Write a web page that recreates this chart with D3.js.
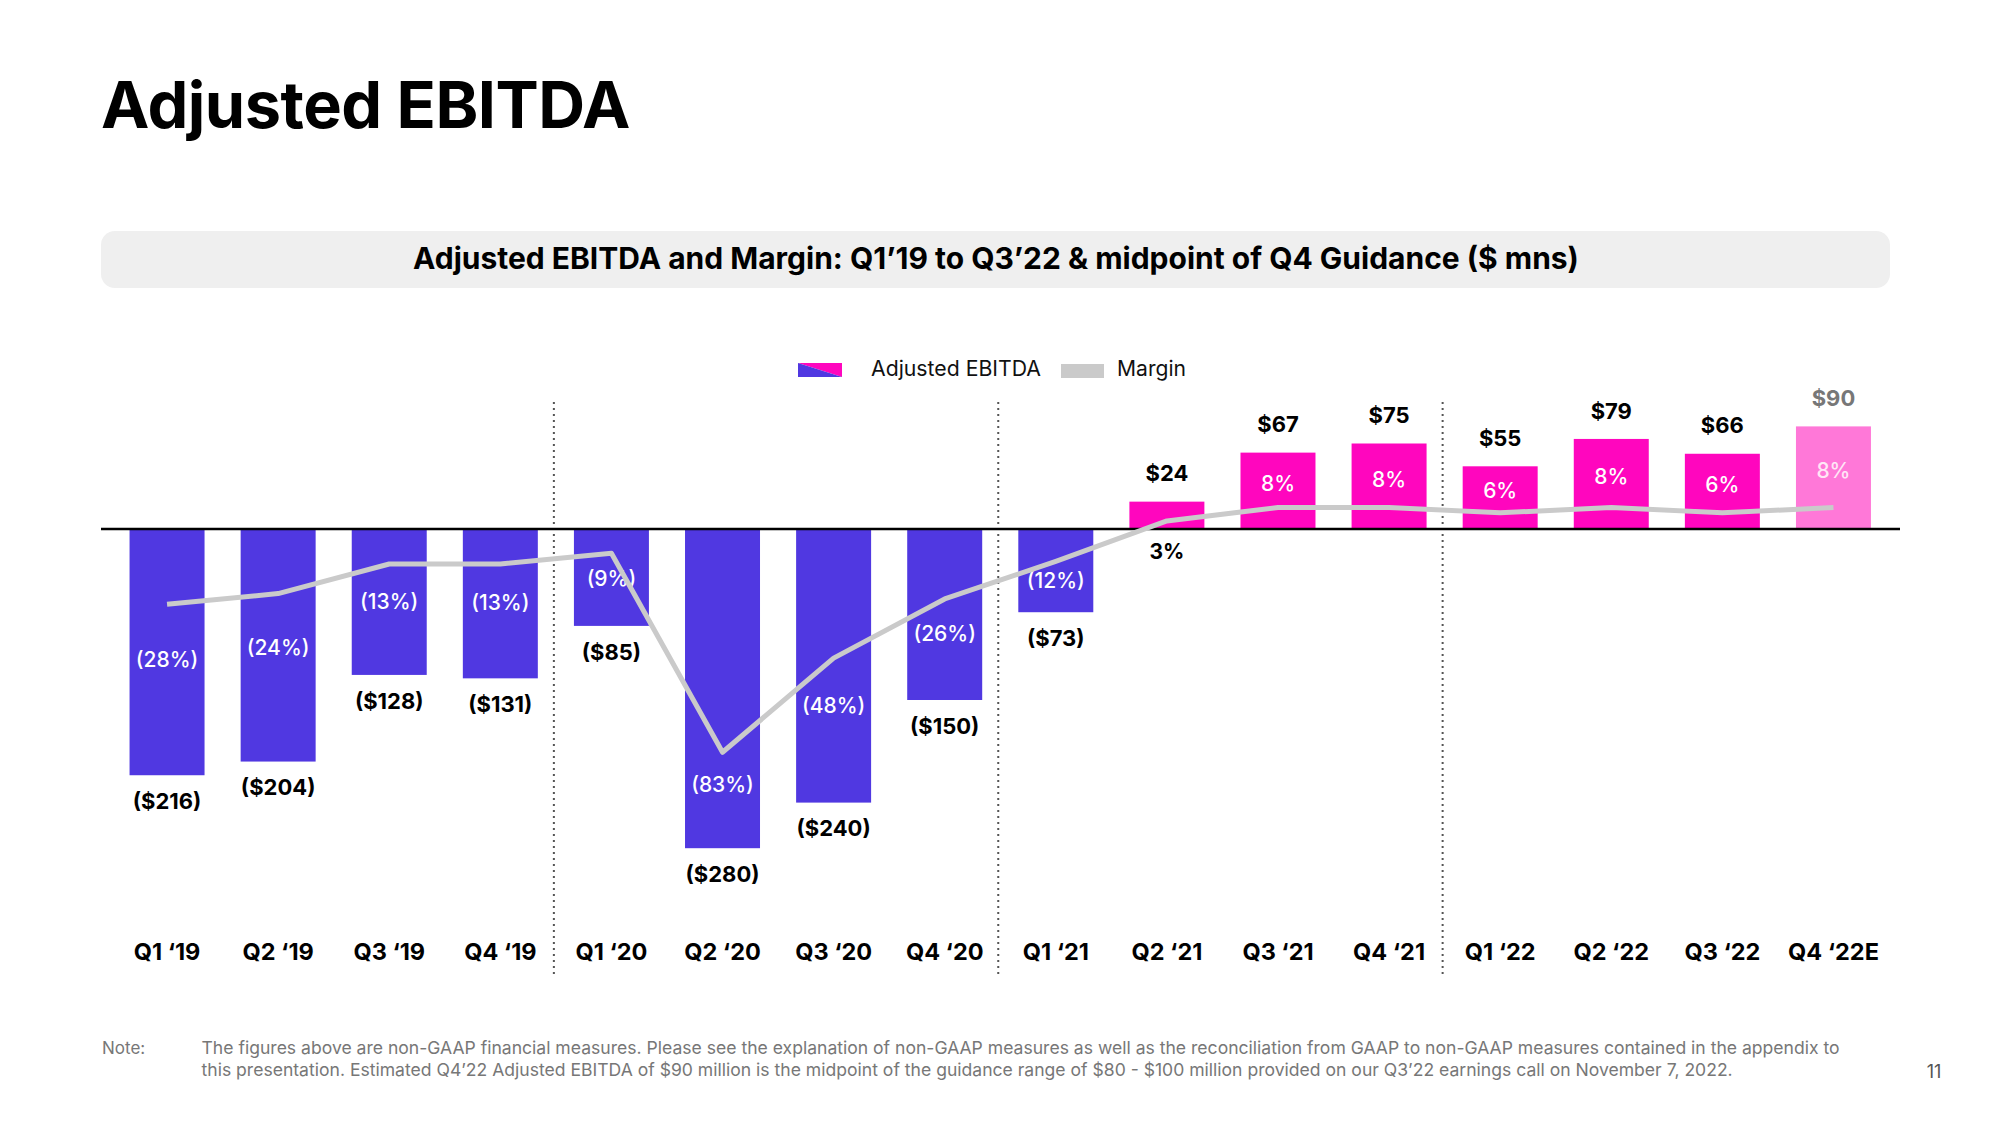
<!DOCTYPE html>
<html>
<head>
<meta charset="utf-8">
<script src="https://cdn.jsdelivr.net/npm/d3@7"></script>
<style>
  html, body { margin: 0; padding: 0; background: #fff; }
  svg { display: block; font-family: Inter, "Noto Sans", sans-serif; }
</style>
</head>
<body>
<svg id="chart" width="2000" height="1125"></svg>
<script>
// ---------- data ----------
const quarters = ["Q1 \u201819","Q2 \u201819","Q3 \u201819","Q4 \u201819",
                  "Q1 \u201820","Q2 \u201820","Q3 \u201820","Q4 \u201820",
                  "Q1 \u201821","Q2 \u201821","Q3 \u201821","Q4 \u201821",
                  "Q1 \u201822","Q2 \u201822","Q3 \u201822","Q4 \u201822E"];
const ebitda = [-216,-204,-128,-131,-85,-280,-240,-150,-73,24,67,75,55,79,66,90];
const margin = [-28,-24,-13,-13,-9,-83,-48,-26,-12,3,8,8,6,8,6,8];
const estimateQuarters = ["Q4 \u201822E"];
const yearStarts = ["Q1 \u201820","Q1 \u201821","Q1 \u201822"];
const titleText = "Adjusted EBITDA";
const subtitleText = "Adjusted EBITDA and Margin: Q1\u201919 to Q3\u201922 & midpoint of Q4 Guidance ($ mns)";
const legendLabels = ["Adjusted EBITDA","Margin"];
const noteLabel = "Note:";
const noteLines = [
  "The figures above are non-GAAP financial measures. Please see the explanation of non-GAAP measures as well as the reconciliation from GAAP to non-GAAP measures contained in the appendix to",
  "this presentation. Estimated Q4\u201922 Adjusted EBITDA of $90 million is the midpoint of the guidance range of $80 - $100 million provided on our Q3\u201922 earnings call on November 7, 2022."
];
const pageNumber = "11";

// ---------- styles ----------
const C = { neg: "#5038E1", pos: "#FF06BE", est: "#FF78D8", line: "#CACACA", text: "#111", grey: "#777" };
const svg = d3.select("#chart");
const base = 529;

function fitWidth(sel, target) {
  const n = sel.node();
  const fs = parseFloat(sel.attr("font-size"));
  const w = n.getComputedTextLength();
  sel.attr("font-size", (fs * target / w).toFixed(2));
}

// ---------- title ----------
svg.append("text").attr("x", 101).attr("y", 128)
  .attr("font-size", 66).attr("font-weight", 700).attr("fill", "#000")
  .attr("letter-spacing", -0.5)
  .text(titleText).call(fitWidth, 529);

// subtitle box
svg.append("rect").attr("x", 101).attr("y", 231).attr("width", 1789).attr("height", 57)
  .attr("rx", 14).attr("fill", "#EFEFEF");
svg.append("text").attr("x", 996).attr("y", 269).attr("text-anchor", "middle")
  .attr("font-size", 29).attr("font-weight", 700).attr("fill", "#000")
  .text(subtitleText).call(fitWidth, 1166);

// ---------- scales ----------
const x = d3.scaleBand().domain(quarters).range([111.5, 1889]).paddingInner(0.325).paddingOuter(0.1625);
const k = 1.14;
const y = d3.scaleLinear().domain([-300, 100]).range([base + 300 * k, base - 100 * k]);
const ym = d3.scaleLinear().domain([-100, 10]).range([base + 269, base - 26.9]);

const data = quarters.map((q, i) => ({ q, v: ebitda[i], m: margin[i], est: estimateQuarters.includes(q) }));

// ---------- legend ----------
const lg = svg.append("g");
const sx0 = 798, sx1 = 842, sy0 = 363, sy1 = 377;
lg.append("polygon").attr("points", `${sx0},${sy0} ${sx1},${sy0} ${sx1},${sy1}`).attr("fill", C.pos);
lg.append("polygon").attr("points", `${sx0},${sy0} ${sx1},${sy1} ${sx0},${sy1}`).attr("fill", C.neg);
lg.append("text").attr("x", 871).attr("y", 376).attr("font-size", 22).attr("fill", "#111")
  .text(legendLabels[0]).call(fitWidth, 170);
lg.append("rect").attr("x", 1061).attr("y", 364).attr("width", 43).attr("height", 14).attr("fill", C.line);
lg.append("text").attr("x", 1117).attr("y", 376).attr("font-size", 22).attr("fill", "#111")
  .text(legendLabels[1]).call(fitWidth, 69);

// ---------- separators ----------
yearStarts.forEach(q => {
  const i = quarters.indexOf(q);
  const xs = (x(quarters[i - 1]) + x.bandwidth() + x(q)) / 2 - 2;
  svg.append("line").attr("x1", xs).attr("x2", xs).attr("y1", 402).attr("y2", 977)
    .attr("stroke", "#555").attr("stroke-width", 2).attr("stroke-dasharray", "2,4");
});

// ---------- bars ----------
svg.append("g").selectAll("rect").data(data).join("rect")
  .attr("x", d => x(d.q))
  .attr("width", x.bandwidth())
  .attr("y", d => Math.min(y(d.v), y(0)))
  .attr("height", d => Math.abs(y(d.v) - y(0)))
  .attr("fill", d => d.est ? C.est : (d.v < 0 ? C.neg : C.pos));

// baseline
svg.append("line").attr("x1", 101).attr("x2", 1900).attr("y1", base).attr("y2", base)
  .attr("stroke", "#000").attr("stroke-width", 2.5);

// ---------- value labels ----------
const fmtVal = v => v < 0 ? `($${Math.abs(v)})` : `$${v}`;
const fmtPct = m => m < 0 ? `(${Math.abs(m)}%)` : `${m}%`;
svg.append("g").selectAll("text").data(data).join("text")
  .attr("x", d => x(d.q) + x.bandwidth() / 2)
  .attr("y", d => d.v < 0 ? y(d.v) + 26 : y(d.v) - 28)
  .attr("dy", "0.35em").attr("text-anchor", "middle")
  .attr("font-size", 22).attr("font-weight", 700)
  .attr("fill", d => d.est ? C.grey : "#000")
  .text(d => fmtVal(d.v));

// ---------- percent labels ----------
const small = d => d.v > 0 && Math.abs(y(d.v) - y(0)) < 45;
svg.append("g").selectAll("text").data(data).join("text")
  .attr("x", d => x(d.q) + x.bandwidth() / 2)
  .attr("y", d => {
    if (d.v < 0) return Math.min(ym(d.m) + 0.3 * (y(d.v) - ym(d.m)) + 4, y(d.v) - 18);
    if (small(d)) return y(0) + 23;
    return (y(d.v) + y(0)) / 2 - 7;
  })
  .attr("dy", "0.35em").attr("text-anchor", "middle")
  .attr("font-size", 21)
  .attr("fill", d => small(d) ? "#000" : (d.est ? "#FFE6F6" : "#fff"))
  .attr("font-weight", d => small(d) ? 700 : 500)
  .text(d => fmtPct(d.m));

// ---------- margin line ----------
svg.append("path").datum(data)
  .attr("fill", "none").attr("stroke", C.line).attr("stroke-width", 5)
  .attr("stroke-linejoin", "round").attr("stroke-linecap", "butt")
  .attr("d", d3.line().x(d => x(d.q) + x.bandwidth() / 2).y(d => ym(d.m)));

// ---------- x axis labels ----------
const xAxis = d3.axisBottom(x).tickSize(0).tickPadding(0);
const ax = svg.append("g").attr("transform", "translate(0,944)").call(xAxis);
ax.select(".domain").remove();
ax.selectAll("text").attr("font-size", 23.5).attr("font-weight", 700).attr("fill", "#000")
  .attr("font-family", "Inter, sans-serif").attr("dy", "0.35em").attr("y", 8);

// ---------- note ----------
svg.append("text").attr("x", 102).attr("y", 1054).attr("font-size", 17).attr("fill", C.grey).text(noteLabel);
noteLines.forEach((t, i) => {
  svg.append("text").attr("x", 201.5).attr("y", 1054 + i * 22).attr("font-size", 17).attr("fill", C.grey)
    .text(t).call(fitWidth, i === 0 ? 1639 : 1532);
});
svg.append("text").attr("x", 1934).attr("y", 1078).attr("text-anchor", "middle").attr("font-size", 18)
  .attr("fill", "#555").text(pageNumber);
</script>
</body>
</html>
